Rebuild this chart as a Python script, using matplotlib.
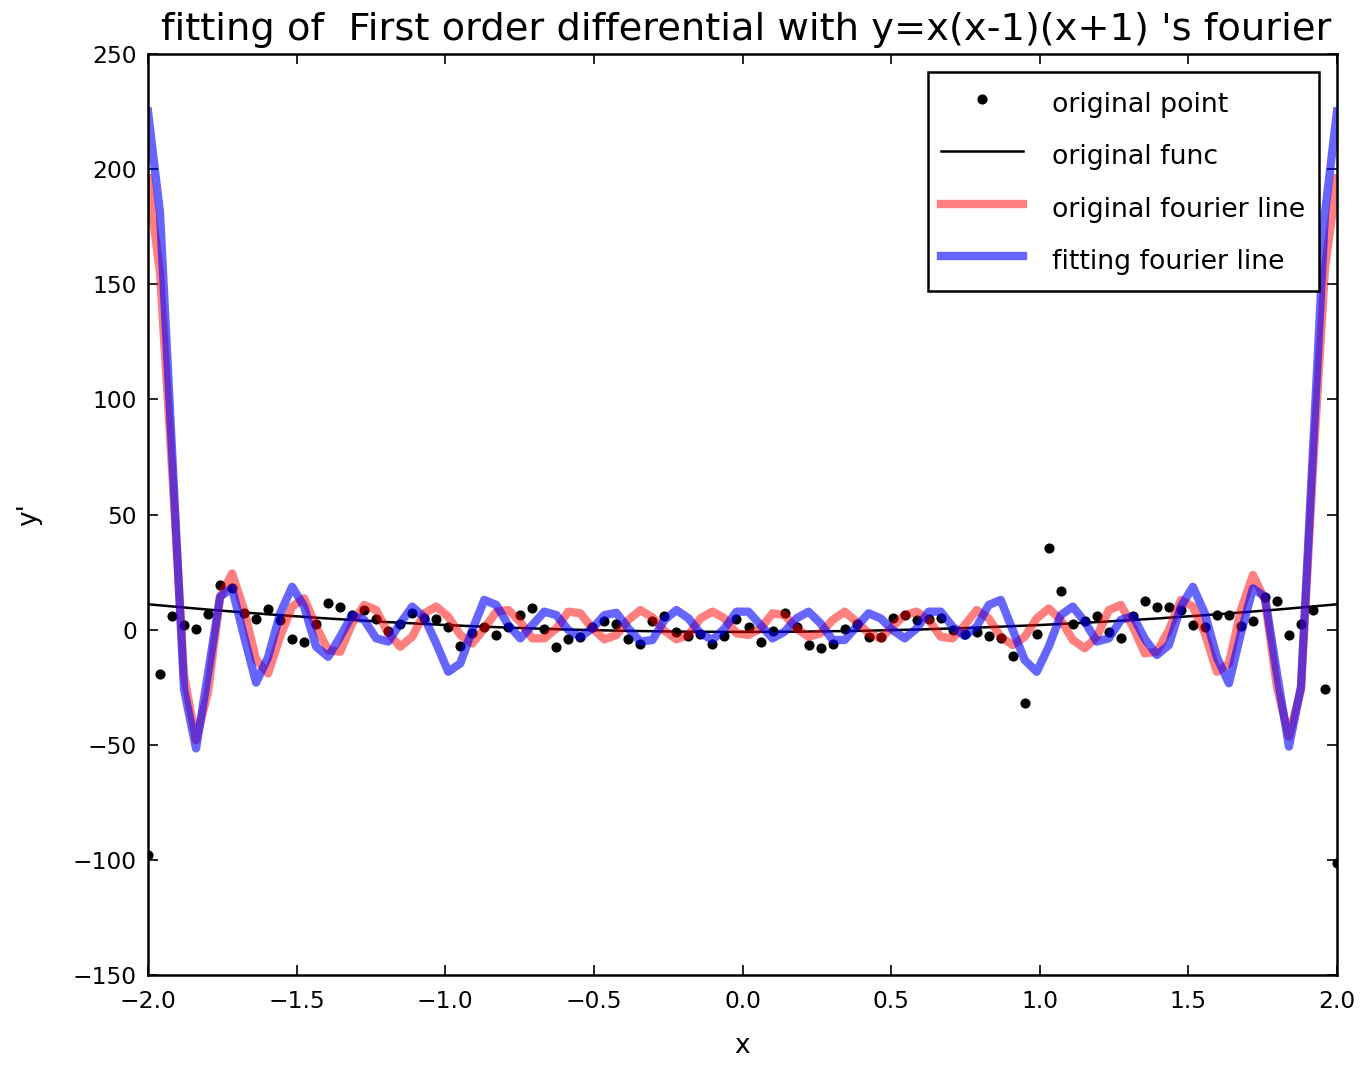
import numpy as np
import matplotlib
matplotlib.use("Agg")
import matplotlib.pyplot as plt

# ---- data ----
x_pts = np.linspace(-2, 2, 100)
orig_points = [
    -98, -19.3, 6.0, 2.0, 0.1, 6.6, 19.4, 18.2, 7.3, 4.6,
    8.9, 4.0, -4.2, -5.2, 2.4, 11.6, 9.7, 6.3, 8.5, 4.5,
    -0.5, 2.4, 7.1, 4.9, 4.6, 1.0, -7.1, -1.6, 1.0, -2.3,
    1.0, 6.5, 9.4, 0.3, -7.7, -4.1, -3.1, 1.3, 3.9, 2.4,
    -4.2, -6.4, 3.9, 5.9, -1.2, -2.8, -2.1, -6.4, -2.6, 4.6,
    1.0, -5.2, -0.5, 7.1, 1.0, -6.7, -8.1, -6.3, 0.1, 2.4,
    -3.4, -3.1, 4.9, 6.3, 4.2, 4.6, 4.9, -0.2, -1.9, -0.9,
    -2.8, -3.8, -11.3, -32.0, -2.1, 35.3, 16.9, 2.4, 3.9, 5.9,
    -1.2, -3.5, 5.9, 12.4, 10.0, 10.0, 8.5, 2.0, 1.0, 6.5,
    6.5, 1.7, 3.6, 14.3, 12.6, -2.2, 2.3, 8.4, -25.8, -101.2,
]

orig_fourier = [
    196, 155, 70, -20, -48, -27, 14, 24.4, 8.5, -13,
    -19, -3, 10, 13.6, 1.3, -8.9, -9.6, 2.7, 10.7, 8.5,
    -1.6, -7.4, -3.1, 7.1, 10, 5.6, -2.3, -6, 0.5, 7.8,
    8.5, 3.4, -3.8, -3.8, 0.5, 7.8, 7.1, 0.5, -4.2, -2.3,
    4.2, 8.5, 5.3, -0.5, -4.2, -2.3, 4.9, 7.8, 4.9, -1.6,
    -2.3, 0.5, 7.1, 6.3, 0.5, -3.1, -1.6, 4.2, 7.8, 3.4,
    -1.6, -3.8, 1.3, 6.3, 7.8, 4.2, -3.1, -3.8, 2, 8.5,
    4.9, -3.1, -6.7, -3.1, 4.9, 9.2, 4.2, -4.5, -8.1, -3.1,
    8.5, 10.7, 1.3, -10.3, -9.6, -0.2, 12.9, 10, -1.6, -18.3,
    -14.7, 8.5, 23.7, 12.9, -25, -46.5, -26, 70, 157, 196,
]

fitting_fourier = [
    225, 181, 78, -26, -51.6, -19, 14.3, 18, -3, -23,
    -12, 7, 18.6, 10, -7.4, -11.8, -3.1, 6.3, 4.2, -3.8,
    -5.2, 2.7, 10, 5.3, -6, -18.3, -14.7, -0.2, 12.9, 10.7,
    2, -3.8, 2, 7.8, 6.3, -0.2, -3.1, 0.5, 6.3, 7.3,
    0.5, -5.2, -4.5, 4.2, 8.5, 4.9, -1.6, -4.5, 0.5, 7.8,
    7.8, 2, -3.8, -0.9, 4.9, 7.8, 2.7, -4.5, -4.5, 1.3,
    7.1, 4.9, -0.2, -3.8, 0.5, 7.8, 7.8, 1.3, -2.8, 1.3,
    10.7, 12.9, -0.2, -13.2, -18.3, -7.4, 6.3, 10, 3.4, -5.2,
    -3.8, 4.2, 5.9, -4, -11, -6.7, 10, 18.6, 7, -12,
    -23.3, -1.6, 17.9, 14.3, -19, -50.8, -24.8, 78, 181, 225,
]

x_func = [-2.0, -1.8, -1.6, -1.4, -1.2, -1.0, -0.8, -0.6, -0.4, -0.2, 0.0,
          0.2, 0.4, 0.6, 0.8, 1.0, 1.2, 1.4, 1.6, 1.8, 2.0]
y_func = [11.0, 8.72, 6.68, 4.88, 3.32, 2.0, 0.92, 0.08, -0.52, -0.88, -1.0,
          -0.88, -0.52, 0.08, 0.92, 2.0, 3.32, 4.88, 6.68, 8.72, 11.0]

x_ticks = [-2.0, -1.5, -1.0, -0.5, 0.0, 0.5, 1.0, 1.5, 2.0]
y_ticks = [-150, -100, -50, 0, 50, 100, 150, 200, 250]

title = "fitting of  First order differential with y=x(x-1)(x+1) 's fourier"

# ---- figure ----
plt.rcParams['font.family'] = ['DejaVu Sans']
fig = plt.figure(figsize=(13.62, 10.67), dpi=100)
ax = fig.add_axes([148/1362, 1 - 975/1067, (1337-148)/1362, (975-54)/1067])

ax.plot(x_pts, orig_points, 'o', color='black', markersize=7.3, markeredgewidth=0,
        label='original point')
ax.plot(x_func, y_func, '-', color='black', linewidth=1.8, label='original func')
ax.plot(x_pts, orig_fourier, '-', color='red', alpha=0.5, linewidth=6,
        label='original fourier line')
ax.plot(x_pts, fitting_fourier, '-', color='blue', alpha=0.6, linewidth=6,
        label='fitting fourier line')

ax.set_xlim(-2, 2)
ax.set_ylim(-150, 250)
ax.set_xticks(x_ticks)
ax.set_yticks(y_ticks)
ax.set_xticklabels([f"{t:.1f}".replace('-', '\u2212') for t in x_ticks])
ax.set_yticklabels([f"{t:d}".replace('-', '\u2212') for t in y_ticks])

ax.tick_params(direction='in', length=7, width=1.2, top=True, right=True,
               labelsize=16.8)
ax.tick_params(axis='x', pad=11)
ax.tick_params(axis='y', pad=8)
for s in ax.spines.values():
    s.set_linewidth(1.8)

ax.set_xlabel('x', fontsize=19, labelpad=14)
ax.set_ylabel("y'", fontsize=19, labelpad=22)
ax.set_title(title, fontsize=27.6, pad=10, x=0.503)

leg = ax.legend(loc='upper right', fontsize=19.3, numpoints=1, handlelength=3.06,
                handletextpad=1.08, labelspacing=0.675, handleheight=1.6,
                borderpad=0.5, borderaxespad=0.68, fancybox=False, framealpha=1)
leg.get_frame().set_edgecolor('black')
leg.get_frame().set_linewidth(1.8)
leg.legend_handles[0].set_markersize(7.3)

fig.savefig('out.png', dpi=100)
